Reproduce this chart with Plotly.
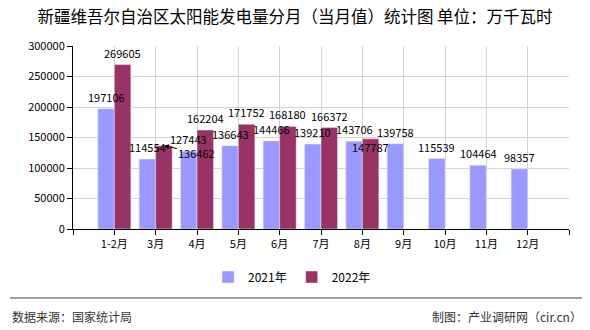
import plotly.graph_objects as go

categories = ["1-2月", "3月", "4月", "5月", "6月", "7月", "8月", "9月", "10月", "11月", "12月"]
values_2021 = [197106, 114554, 127443, 136643, 144466, 139210, 143706, 139758, 115539, 104464, 98357]
values_2022 = [269605, 136462, 162204, 171752, 168180, 166372, 147787, None, None, None, None]
series_names = ["2021年", "2022年"]
y_ticks = [0, 50000, 100000, 150000, 200000, 250000, 300000]

title_text = "新疆维吾尔自治区太阳能发电量分月（当月值）统计图 单位：万千瓦时"
source_text = "数据来源：国家统计局"
credit_text = "制图：产业调研网（cir.cn）"

# labels that the original moved away from the bar top to avoid collisions
moved_2022 = {1: dict(ax=33, ay=7, arrow=True), 6: dict(arrow=False, yshift=-8)}

FONT = "Noto Sans CJK SC, Liberation Sans, sans-serif"
C2021 = "#9999FF"
C2022 = "#993366"
LABEL_FONT = dict(size=11, color="#000000", family=FONT)

xs = list(range(len(categories)))
bar_w = 0.4  # each bar is 0.4 of a category slot (bargap 0.2, two bars)

fig = go.Figure()
fig.add_trace(go.Bar(x=xs, y=values_2021, name=series_names[0], marker_color=C2021))
fig.add_trace(go.Bar(x=xs, y=values_2022, name=series_names[1], marker_color=C2022))

L, R, T, B = 73, 21, 46, 101
W, H = 590, 330
pw = W - L - R
ph = H - T - B

def px_to_paper_x(px):
    return (px - L) / pw

def py_to_paper_y(py):
    return (H - B - py) / ph

annotations = []
# value labels (on top of all bars)
for i, v in enumerate(values_2021):
    annotations.append(dict(x=i - bar_w / 2, y=v, xref="x", yref="y", text=str(v),
                            showarrow=False, yshift=12, font=LABEL_FONT))
for i, v in enumerate(values_2022):
    if v is None:
        continue
    opt = moved_2022.get(i)
    if opt is None:
        annotations.append(dict(x=i + bar_w / 2, y=v, xref="x", yref="y", text=str(v),
                                showarrow=False, yshift=12, font=LABEL_FONT))
    elif opt["arrow"]:
        annotations.append(dict(x=i + bar_w / 2, y=v, xref="x", yref="y",
                                text=str(v), showarrow=True, ax=opt["ax"], ay=opt["ay"],
                                arrowhead=2, arrowsize=1, arrowwidth=1, arrowcolor="#000000",
                                xanchor="center", yanchor="middle", font=LABEL_FONT))
    else:
        annotations.append(dict(x=i + bar_w / 2, y=v, xref="x", yref="y",
                                text=str(v), showarrow=False, yshift=opt["yshift"],
                                font=LABEL_FONT))

annotations.append(dict(x=px_to_paper_x(10), y=py_to_paper_y(316), xref="paper", yref="paper",
                        text=source_text, showarrow=False, xanchor="left", yanchor="middle",
                        font=dict(size=12, color="#333333", family=FONT)))
annotations.append(dict(x=px_to_paper_x(584), y=py_to_paper_y(316), xref="paper", yref="paper",
                        text=credit_text, showarrow=False, xanchor="right", yanchor="middle",
                        font=dict(size=12, color="#333333", family=FONT)))

shapes = [dict(type="line", xref="paper", yref="paper",
               x0=px_to_paper_x(10), x1=px_to_paper_x(582),
               y0=py_to_paper_y(298), y1=py_to_paper_y(298),
               line=dict(color="#808080", width=1.5))]

fig.update_layout(
    width=W, height=H,
    margin=dict(l=L, r=R, t=T, b=B),
    paper_bgcolor="white", plot_bgcolor="white",
    barmode="group", bargap=0.2, bargroupgap=0,
    title=dict(text=title_text, x=0.5, xref="container", xanchor="center",
               y=1 - 17 / H, yref="container", yanchor="middle",
               font=dict(size=16.5, color="#000000", family=FONT)),
    font=dict(family=FONT, size=11, color="#000000"),
    legend=dict(orientation="h", xref="container", yref="container",
                x=0.495, y=1 - 277 / H, xanchor="center", yanchor="middle",
                font=dict(size=12, color="#000000", family=FONT),
                itemwidth=30, traceorder="normal"),
    annotations=annotations,
    shapes=shapes,
    showlegend=True,
)

fig.update_xaxes(
    range=[-1, len(categories)],
    tickmode="array",
    tickvals=list(range(-1, len(categories) + 1)),
    ticktext=[""] + categories + [""],
    showgrid=True, gridcolor="#D3D3D3", gridwidth=1,
    showline=True, linecolor="#000000", linewidth=1,
    ticks="outside", ticklen=5, tickcolor="#000000",
    tickfont=dict(size=11, color="#000000", family=FONT),
    zeroline=False,
)
fig.update_yaxes(
    range=[0, 300000],
    tickmode="array", tickvals=y_ticks, ticktext=[str(t) for t in y_ticks],
    showgrid=True, gridcolor="#D3D3D3", gridwidth=1,
    showline=True, linecolor="#000000", linewidth=1,
    ticks="outside", ticklen=5, tickcolor="#000000",
    tickfont=dict(size=11, color="#000000", family=FONT),
    zeroline=False,
)

fig.write_html("out.html")
